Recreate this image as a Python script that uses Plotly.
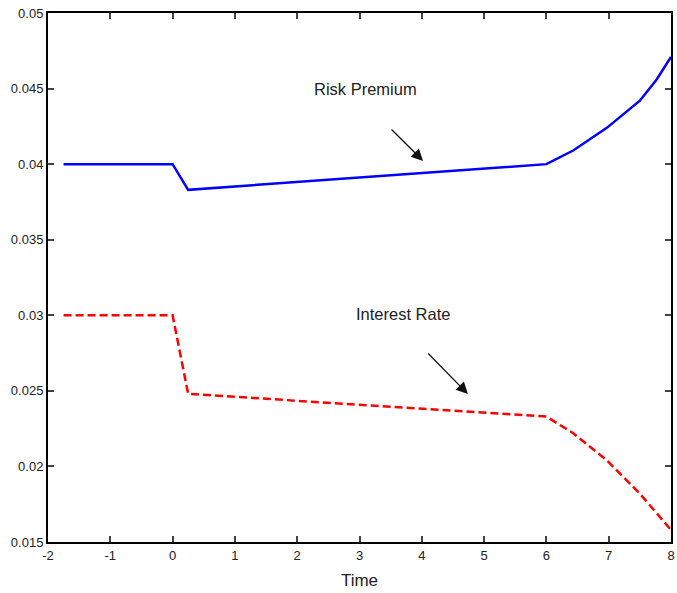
import plotly.graph_objects as go

# Data
time_rp = [-1.75, 0.0, 0.25, 6.0, 6.43, 6.97, 7.5, 7.77, 8.0]
risk_premium = [0.040, 0.040, 0.0383, 0.0400, 0.0409, 0.0424, 0.0442, 0.0456, 0.0471]
time_ir = [-1.75, 0.0, 0.25, 6.0, 6.43, 6.97, 7.5, 8.0]
interest_rate = [0.030, 0.030, 0.0248, 0.0233, 0.0222, 0.0204, 0.0182, 0.0158]

x_ticks = [-2, -1, 0, 1, 2, 3, 4, 5, 6, 7, 8]
x_labels = ["-2", "-1", "0", "1", "2", "3", "4", "5", "6", "7", "8"]
y_ticks = [0.015, 0.02, 0.025, 0.03, 0.035, 0.04, 0.045, 0.05]
y_labels = ["0.015", "0.02", "0.025", "0.03", "0.035", "0.04", "0.045", "0.05"]

font = "Liberation Sans, Arial, sans-serif"

fig = go.Figure()
fig.add_trace(go.Scatter(x=time_rp, y=risk_premium, mode="lines",
                         line=dict(color="#0000ff", width=2.5), name="Risk Premium"))
fig.add_trace(go.Scatter(x=time_ir, y=interest_rate, mode="lines",
                         line=dict(color="#ff0000", width=2.5, dash="8px,4px"), name="Interest Rate"))

fig.add_annotation(x=3.09, y=0.04497, text="Risk Premium", showarrow=False,
                   font=dict(size=16.5, color="#222", family=font))
fig.add_annotation(x=4.02, y=0.04021, ax=3.49, ay=0.04239, axref="x", ayref="y",
                   text="", showarrow=True, arrowhead=2, arrowsize=1.8, arrowwidth=1.3, arrowcolor="#111")
fig.add_annotation(x=3.70, y=0.03011, text="Interest Rate", showarrow=False,
                   font=dict(size=16.5, color="#222", family=font))
fig.add_annotation(x=4.74, y=0.02479, ax=4.08, ay=0.02757, axref="x", ayref="y",
                   text="", showarrow=True, arrowhead=2, arrowsize=1.8, arrowwidth=1.3, arrowcolor="#111")

fig.update_layout(
    width=677, height=593,
    margin=dict(l=48, r=6, t=13, b=51, autoexpand=False),
    paper_bgcolor="white", plot_bgcolor="white",
    showlegend=False,
    font=dict(family=font, size=13, color="#222"),
    xaxis=dict(range=[-2, 8], tickvals=x_ticks, ticktext=x_labels, ticks="inside", ticklen=6, tickwidth=2,
               showline=True, linecolor="black", linewidth=2, mirror="ticks",
               showgrid=False, zeroline=False, automargin=False,
               title=dict(text="Time", font=dict(size=17), standoff=13)),
    yaxis=dict(range=[0.015, 0.05], tickvals=y_ticks, ticktext=y_labels, ticks="inside",
               ticklen=6, tickwidth=2, showline=True, linecolor="black", linewidth=2,
               mirror="ticks", showgrid=False, zeroline=False, automargin=False),
)

fig.write_html("out.html", config={"displayModeBar": False},
               post_script="document.body.style.margin='0';document.body.style.padding='0';")
